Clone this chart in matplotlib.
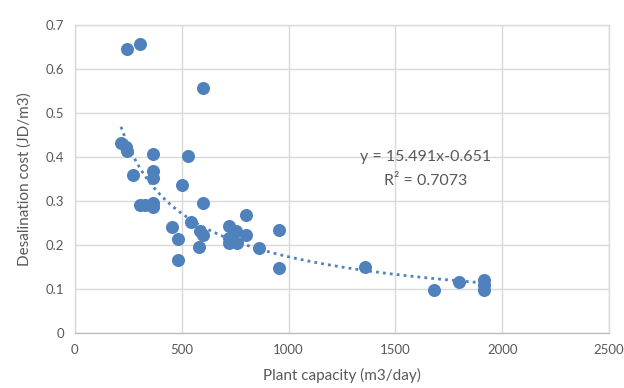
import numpy as np
import matplotlib.pyplot as plt

plt.rcParams['font.family'] = ['Lato', 'DejaVu Sans']

# plant capacity (m3/day) and desalination cost (JD/m3)
capacity = [242, 305, 599, 216, 238, 242, 364, 530, 272, 364, 364, 503,
            305, 328, 364, 364, 599, 800, 453, 542, 484, 586, 599, 579,
            484, 722, 753, 800, 722, 722, 761, 863, 956, 956,
            1360, 1683, 1797, 1917, 1917, 1917]
cost = [0.646, 0.656, 0.556, 0.432, 0.423, 0.414, 0.407, 0.402, 0.358, 0.368,
        0.352, 0.336, 0.290, 0.290, 0.294, 0.286, 0.295, 0.268, 0.241, 0.252,
        0.213, 0.232, 0.222, 0.196, 0.165, 0.243, 0.232, 0.222, 0.215, 0.203,
        0.203, 0.193, 0.233, 0.147, 0.150, 0.097, 0.116, 0.120, 0.108, 0.097]

# power trendline y = a * x^b
a, b = 15.491, -0.651

blue = '#4f81bd'
grid_c = '#d9d9d9'
text_c = '#595959'

fig = plt.figure(figsize=(6.24, 3.88), dpi=100)
ax = fig.add_axes([0.120, 0.1425, 0.856, 0.7935])

ax.scatter(capacity, cost, s=88, color=blue, zorder=3, linewidths=0)

xt = np.linspace(min(capacity), max(capacity), 200)
ax.plot(xt, a * xt ** b, color=blue, linestyle=(0, (1, 1.5)), linewidth=2, zorder=2)

ax.text(1640, 0.40, 'y = 15.491x-0.651', ha='center', va='center', fontsize=11.5, color=text_c)
ax.text(1640, 0.345, 'R² = 0.7073', ha='center', va='center', fontsize=11.5, color=text_c)

ax.set_xlim(0, 2500)
ax.set_ylim(0, 0.7)
ax.set_xticks(range(0, 2501, 500))
ax.set_yticks(np.arange(0, 0.71, 0.1))
ax.set_yticklabels(['0', '0.1', '0.2', '0.3', '0.4', '0.5', '0.6', '0.7'])
ax.grid(True, color=grid_c, linewidth=1)
ax.set_axisbelow(True)
for s in ax.spines.values():
    s.set_color(grid_c)
    s.set_linewidth(1)
ax.spines['bottom'].set_color('#bfbfbf')
ax.tick_params(length=0, colors=text_c, labelsize=9.5, pad=8)

ax.set_xlabel('Plant capacity (m3/day)', fontsize=11, color=text_c, labelpad=9)
ax.set_ylabel('Desalination cost (JD/m3)', fontsize=11, color=text_c, labelpad=10)

fig.savefig('out.png', dpi=100)
